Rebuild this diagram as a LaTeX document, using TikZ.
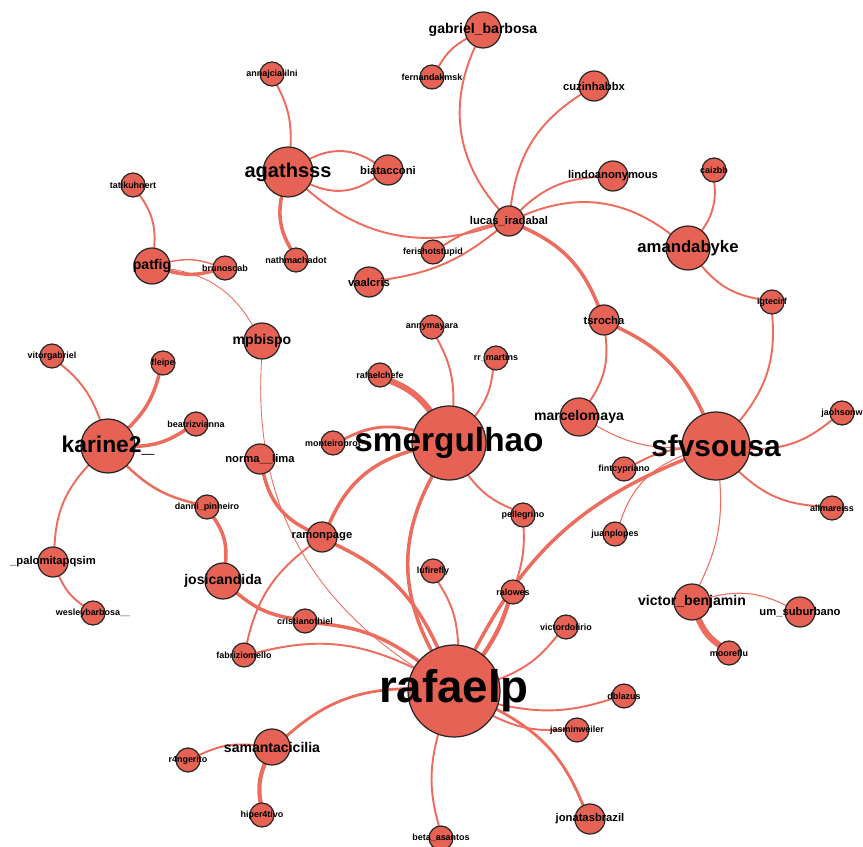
\documentclass[tikz,border=0pt]{standalone}
\usepackage{fontspec}
\setmainfont{Liberation Sans}
\usetikzlibrary{backgrounds}
\definecolor{nodered}{RGB}{230,98,84}
\definecolor{edgered}{RGB}{236,108,94}
\tikzset{
    vtx/.style={circle, draw=black!85, line width=0.7pt, fill=nodered, inner sep=0pt},
    edge/.style={draw=edgered, line cap=round}
}

\begin{document}
\begin{tikzpicture}[x=0.02cm,y=-0.02cm]
    \useasboundingbox (0,0) rectangle (863,847);

    % nodes: name/x/y/radius/fontsize/weight/text
    \foreach \n/\x/\y/\r/\fs/\fw/\t in {
        gabriel/483/30/18/8/\bfseries/gabriel\_barbosa,
        fernanda/432/77/12/5.1/\bfseries/fernandakmsk,
        anna/272/74/12/5.1/\bfseries/annajcialilni,
        agathsss/288/172/25/11.4/\bfseries/agathsss,
        biatacconi/388/170/15/6.4/\bfseries/biatacconi,
        cuzinha/594/86/15/6.4/\bfseries/cuzinhabbx,
        lindo/613/176/15/6.4/\bfseries/lindoanonymous,
        caizbb/714/170/12/5.1/\bfseries/caizbb,
        lucas/509/221/15/6.4/\bfseries/lucas\_iradabal,
        amanda/688/248/22/9.5/\bfseries/amandabyke,
        tati/133/185/12/5.1/\bfseries/tatikuhnert,
        patfig/152/266/18/8/\bfseries/patfig,
        bruno/225/268/12/5.1/\bfseries/brunoscab,
        nath/296/260/12/5.1/\bfseries/nathmachadot,
        feris/433/252/12/5.1/\bfseries/ferishotstupid,
        vaalcris/369/282/15/6.4/\bfseries/vaalcris,
        mpbispo/262/341/18/8/\bfseries/mpbispo,
        anny/432/327/12/5.1/\bfseries/annymayara,
        rchefe/380/375/12/5.1/\bfseries/rafaelchefe,
        rrmartins/496/358/12/5.1/\bfseries/rr\_martins,
        tsrocha/604/320/15/6.4/\bfseries/tsrocha,
        igtecirf/772/302/12/5.1/\bfseries/igtecirf,
        vitor/52/356/12/5.1/\bfseries/vitorgabriel,
        fleipe/163/363/12/5.1/\bfseries/fleipe,
        beatriz/196/424/12/5.1/\bfseries/beatrizvianna,
        karine/108/446/27/13/\bfseries/karine2\_,
        norma/260/459/15/6.4/\bfseries/norma\_\_lima,
        monteiro/333/443/12/5.1/\bfseries/monteirobrot,
        smerg/449/443/37/19/\bfseries/smergulhao,
        marcelo/579/417/19/8/\bfseries/marcelomaya,
        sfv/716/446/34/17/\bfseries/sfvsousa,
        jaoh/842/413/12/5.1/\bfseries/jaohsonw,
        fintc/624/469/12/5.1/\bfseries/fintcypriano,
        allma/832/508/12/5.1/\bfseries/allmareiss,
        pelle/523/515/12/5.1/\bfseries/pellegrino,
        juan/615/534/12/5.1/\bfseries/juanplopes,
        danni/207/507/12/5.1/\bfseries/danni\_pinheiro,
        ramon/322/537/15/6.4/\bfseries/ramonpage,
        palomita/53/562/15/6.4/\bfseries/\_palomitapqsim,
        wesley/93/613/12/5.1/\bfseries/wesleybarbosa\_\_,
        josi/223/581/18/8/\bfseries/josicandida,
        cristiano/305/621/12/5.1/\bfseries/cristianothiel,
        fabrizio/244/655/12/5.1/\bfseries/fabriziomello,
        lufire/433/571/12/5.1/\bfseries/lufirefly,
        ralowes/513/592/12/5.1/\bfseries/ralowes,
        vdolirio/566/627/12/5.1/\bfseries/victordolirio,
        rafaelp/454/691/46/26/\bfseries/rafaelp,
        samanta/272/747/18/8/\bfseries/samantacicilia,
        ranger/188/760/12/5.1/\bfseries/r4ngerito,
        hiper/262/815/12/5.1/\bfseries/hiper4tivo,
        beta/441/838/12/5.1/\bfseries/beta\_asantos,
        jonatas/590/819/15/6.4/\bfseries/jonatasbrazil,
        jasmin/577/730/12/5.1/\bfseries/jasminweiler,
        dblazus/624/696/12/5.1/\bfseries/dblazus,
        victorb/692/602/18/8/\bfseries/victor\_benjamin,
        umsub/800/612/15/6.4/\bfseries/um\_suburbano,
        moore/729/653/12/5.1/\bfseries/mooreflu}
    \node[vtx, minimum size=2*\r*0.02cm,
          label={[font=\fontsize{\fs}{\fs}\selectfont\fw, inner sep=0pt]center:\t}] (\n) at (\x,\y) {};

    % connectors: from/to/bend/width
    \begin{pgfonlayer}{background}
    \foreach \a/\b/\ang/\w in {
        gabriel/fernanda/-15/1.1pt, gabriel/lucas/-33/1.1pt,
        anna/agathsss/15/1.1pt, agathsss/biatacconi/30/1.1pt,
        agathsss/biatacconi/-30/1.1pt, agathsss/nath/-20/2pt,
        agathsss/lucas/-30/1.1pt, cuzinha/lucas/-25/1.1pt,
        lindo/lucas/-20/1.1pt, lucas/amanda/30/1.1pt,
        lucas/feris/-10/1.1pt, lucas/vaalcris/15/1.1pt,
        lucas/tsrocha/22/2pt, caizbb/amanda/20/1.1pt,
        amanda/igtecirf/-20/1.1pt, igtecirf/sfv/22/1.1pt,
        tati/patfig/20/1.1pt, patfig/bruno/-15/2pt,
        patfig/bruno/15/0.8pt, patfig/mpbispo/25/0.5pt,
        mpbispo/rafaelp/-30/0.5pt, norma/ramon/-25/2pt,
        ramon/fabrizio/-20/1.1pt, ramon/smerg/25/2pt,
        ramon/rafaelp/20/2pt, smerg/rchefe/-15/3.5pt,
        smerg/anny/-15/1.1pt, smerg/rrmartins/-15/1.1pt,
        smerg/monteiro/-20/1.6pt, smerg/pelle/-15/1.1pt,
        smerg/rafaelp/-28/2pt, pelle/ralowes/10/1.1pt,
        ralowes/rafaelp/8/2.4pt, sfv/rafaelp/-20/2pt,
        sfv/marcelo/15/0.6pt, sfv/fintc/-10/1.1pt,
        sfv/juan/-25/0.6pt, tsrocha/sfv/20/2pt,
        tsrocha/marcelo/20/1.1pt, sfv/jaoh/-20/1.1pt,
        sfv/allma/-20/1.1pt, sfv/victorb/15/0.6pt,
        victorb/umsub/20/0.6pt, victorb/moore/-15/3.5pt,
        karine/vitor/-15/1.1pt, karine/fleipe/-15/2pt,
        karine/beatriz/-15/2pt, karine/danni/-15/1.4pt,
        karine/palomita/-20/1.1pt, palomita/wesley/-15/1.1pt,
        danni/josi/20/2pt, josi/cristiano/-15/2pt,
        cristiano/rafaelp/15/2pt, fabrizio/rafaelp/20/1.1pt,
        lufire/rafaelp/15/1.1pt, vdolirio/rafaelp/15/1.1pt,
        rafaelp/dblazus/-15/1.1pt, rafaelp/jasmin/-15/1.1pt,
        rafaelp/jonatas/20/1.6pt, rafaelp/beta/-15/1.1pt,
        rafaelp/samanta/-20/1.6pt, samanta/ranger/-15/1.1pt,
        samanta/hiper/-15/2.4pt}
    \draw[edge, line width=\w] (\a) to[bend left=\ang] (\b);
    \end{pgfonlayer}
\end{tikzpicture}
\end{document}
